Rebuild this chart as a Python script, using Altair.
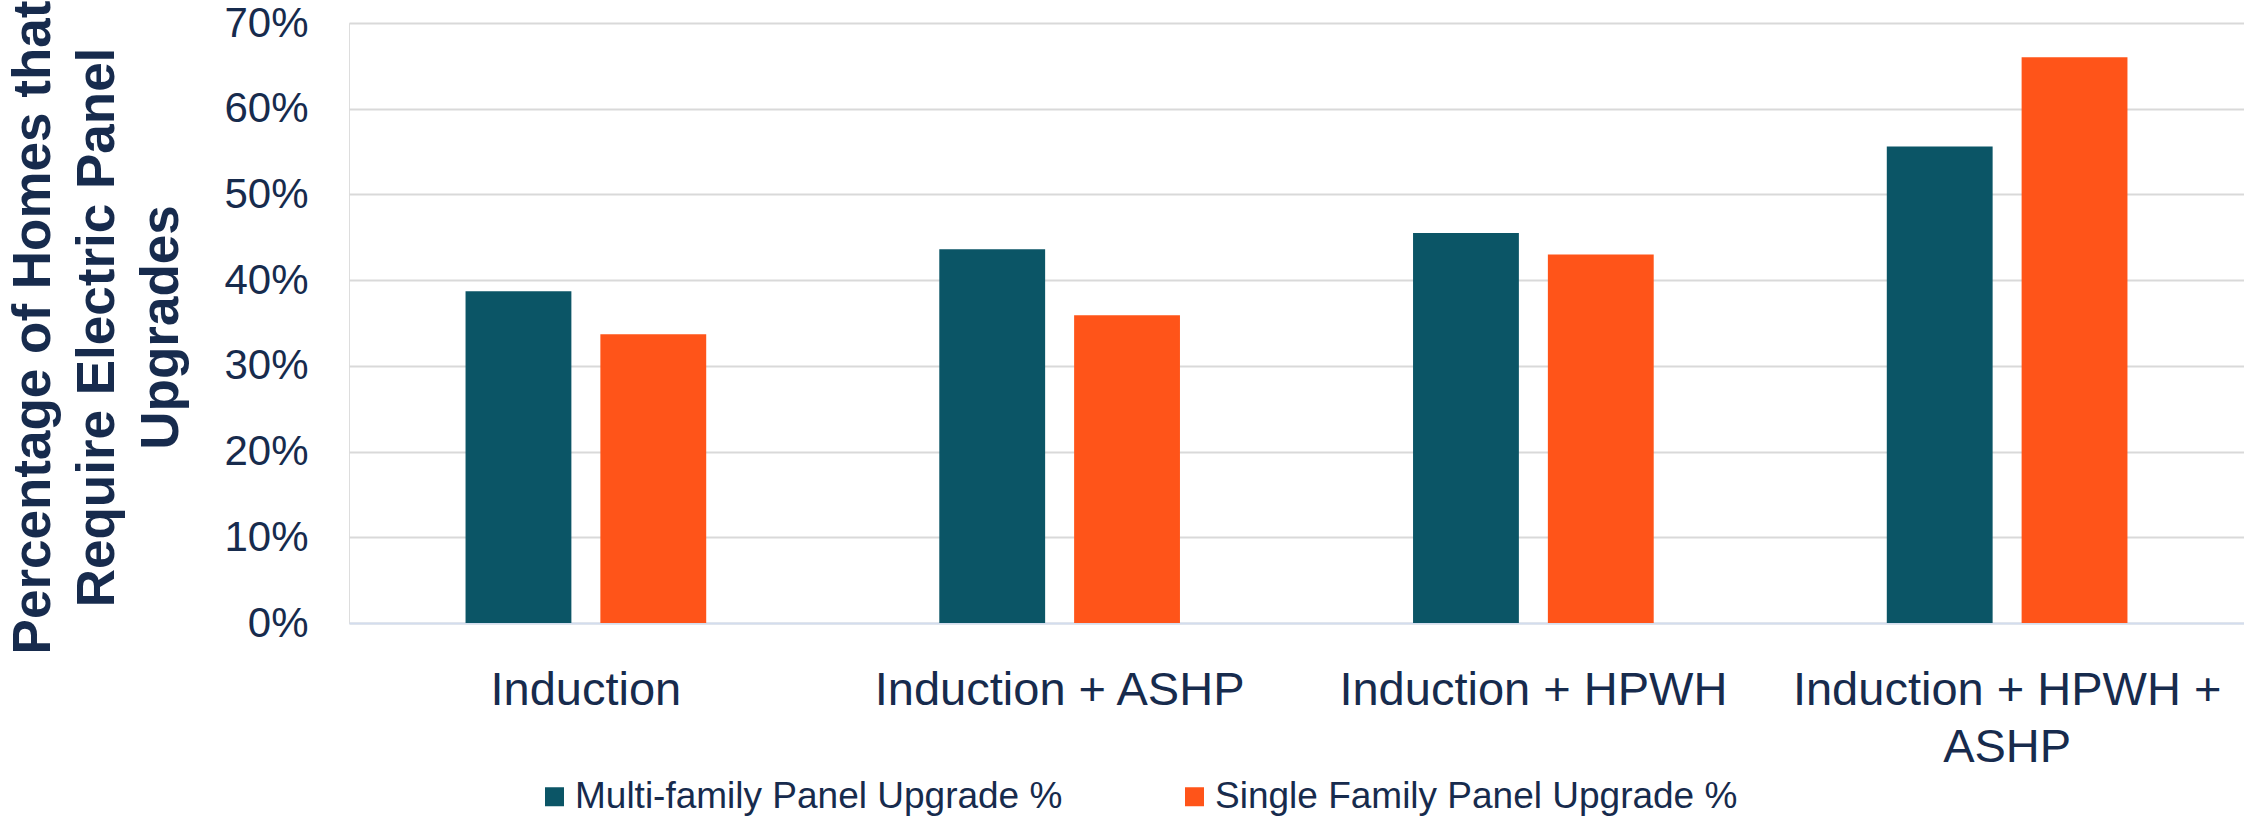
import altair as alt
import pandas as pd

# Share of homes needing an electric panel upgrade, by electrification package
categories = ["Induction", "Induction + ASHP", "Induction + HPWH", "Induction + HPWH + ASHP"]
series = ["Multi-family Panel Upgrade %", "Single Family Panel Upgrade %"]
multi_family = [0.387, 0.436, 0.455, 0.556]
single_family = [0.337, 0.359, 0.430, 0.660]
y_ticks = [0.0, 0.1, 0.2, 0.3, 0.4, 0.5, 0.6, 0.7]

colors = ["#0B5566", "#FF5419"]
navy = "#172B4D"
font = "Liberation Sans"

rows = []
for cat, mf, sf in zip(categories, multi_family, single_family):
    rows.append({"package": cat, "series": series[0], "share": mf})
    rows.append({"package": cat, "series": series[1], "share": sf})
df = pd.DataFrame(rows)

label_expr = (
    "datum.label == 'Induction + HPWH + ASHP' ? ['Induction + HPWH +', 'ASHP'] : datum.label"
)

chart = (
    alt.Chart(df)
    .mark_bar()
    .encode(
        x=alt.X(
            "package:N",
            sort=categories,
            scale=alt.Scale(paddingInner=0.492, paddingOuter=0.246),
            axis=alt.Axis(
                title=None,
                labelAngle=0,
                labelFont=font,
                labelFontSize=47,
                labelColor=navy,
                labelPadding=44,
                labelLineHeight=57,
                labelLimit=0,
                labelExpr=label_expr,
                ticks=False,
                domainColor="#D3DDEE",
                domainWidth=2,
                grid=False,
            ),
        ),
        xOffset=alt.XOffset(
            "series:N",
            sort=series,
            scale=alt.Scale(paddingInner=0.215, paddingOuter=0),
        ),
        y=alt.Y(
            "share:Q",
            scale=alt.Scale(domain=[0, 0.7], nice=False),
            axis=alt.Axis(
                title=["Percentage of Homes that", "Require Electric Panel", "Upgrades"],
                titleFont=font,
                titleFontSize=53,
                titleFontWeight="bold",
                titleColor=navy,
                titleLineHeight=64,
                titleAngle=-90,
                titleAlign="center",
                titleBaseline="alphabetic",
                titleX=-300,
                titleY=304,
                values=y_ticks,
                format=".0%",
                labelFont=font,
                labelFontSize=42,
                labelColor=navy,
                labelPadding=41,
                ticks=False,
                domain=False,
                grid=True,
                gridColor="#D9D9D9",
                gridWidth=2,
            ),
        ),
        color=alt.Color(
            "series:N",
            sort=series,
            scale=alt.Scale(domain=series, range=colors),
            legend=alt.Legend(
                title=None,
                orient="none",
                direction="horizontal",
                legendX=187,
                legendY=755,
                columns=2,
                columnPadding=113,
                symbolType="square",
                symbolSize=361,
                symbolStrokeWidth=0,
                symbolOpacity=1,
                labelFont=font,
                labelFontSize=37,
                labelColor=navy,
                labelOffset=2,
                labelLimit=0,
            ),
        ),
    )
    .properties(
        width=1895,
        height=600,
        padding={"left": 349, "top": 23, "right": 0, "bottom": 195},
        autosize=alt.AutoSizeParams(type="none"),
    )
    .configure_view(stroke=None)
    .configure(background="white")
)

chart.save("out.html", embed_options={"renderer": "svg", "actions": False})
